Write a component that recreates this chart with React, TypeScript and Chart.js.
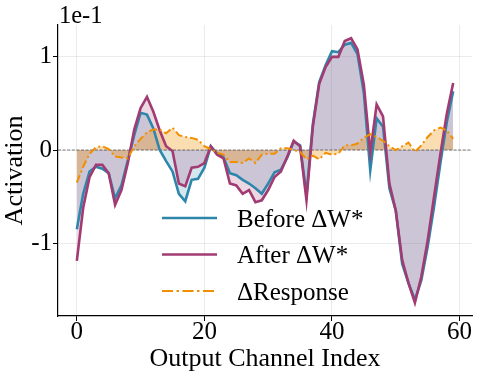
import React, { useEffect, useRef } from "react";
import { Chart, registerables } from "chart.js";

Chart.register(...registerables);

// Output channel indices (x categories)
const channels = [
  0, 1, 2, 3, 4, 5, 6, 7, 8, 9, 10, 11, 12, 13, 14, 15, 16, 17, 18, 19,
  20, 21, 22, 23, 24, 25, 26, 27, 28, 29, 30, 31, 32, 33, 34, 35, 36, 37, 38, 39,
  40, 41, 42, 43, 44, 45, 46, 47, 48, 49, 50, 51, 52, 53, 54, 55, 56, 57, 58, 59,
];

// Activation values, in units of 1e-1
const beforeDW = [
  -0.85, -0.47, -0.23, -0.18, -0.2, -0.25, -0.52, -0.38, -0.11, 0.16,
  0.4, 0.38, 0.23, 0.0, -0.12, -0.23, -0.47, -0.55, -0.32, -0.31,
  -0.19, 0.04, -0.04, -0.08, -0.25, -0.27, -0.32, -0.36, -0.41, -0.47,
  -0.36, -0.24, -0.21, -0.08, 0.09, 0.05, -0.48, 0.28, 0.73, 0.91,
  1.06, 1.05, 1.13, 1.15, 1.03, 0.61, -0.22, 0.34, 0.25, -0.41,
  -0.65, -1.22, -1.43, -1.61, -1.4, -1.04, -0.61, -0.14, 0.3, 0.63,
];

const afterDW = [
  -1.19, -0.62, -0.29, -0.16, -0.16, -0.25, -0.59, -0.43, -0.14, 0.22,
  0.45, 0.57, 0.41, 0.21, 0.04, -0.01, -0.36, -0.39, -0.19, -0.18,
  -0.14, 0.04, -0.05, -0.09, -0.36, -0.38, -0.47, -0.43, -0.56, -0.54,
  -0.43, -0.29, -0.23, -0.07, 0.1, 0.04, -0.54, 0.25, 0.71, 0.89,
  1.0, 1.0, 1.17, 1.2, 1.08, 0.7, -0.03, 0.49, 0.36, -0.36,
  -0.65, -1.18, -1.43, -1.64, -1.36, -0.97, -0.5, -0.04, 0.39, 0.72,
];

const deltaResponse = [
  -0.35, -0.18, -0.04, 0.03, 0.04, 0.01, -0.07, -0.08, -0.09, 0.04,
  0.12, 0.19, 0.22, 0.22, 0.18, 0.24, 0.16, 0.14, 0.13, 0.11,
  0.04, 0.01, -0.03, -0.05, -0.13, -0.13, -0.14, -0.09, -0.14, -0.05,
  -0.04, -0.04, 0.02, 0.02, 0.0, -0.02, -0.1, -0.06, -0.1, -0.03,
  -0.05, -0.04, 0.05, 0.05, 0.07, 0.13, 0.17, 0.14, 0.1, 0.04,
  0.0, 0.04, 0.08, -0.02, 0.05, 0.14, 0.21, 0.24, 0.21, 0.12,
];

const xTicks = [0, 20, 40, 60];
const yTicks = [-1, 0, 1];
const seriesLabels = ["Before \u0394W*", "After \u0394W*", "\u0394Response"];
const xTitle = "Output Channel Index";
const yTitle = "Activation";
const multiplierText = "1e-1";

const BLUE = "#2E86AB";
const MAGENTA = "#A23B72";
const ORANGE = "#F18F01";
const FONT = "'Liberation Serif', 'Times New Roman', serif";

const overlayPlugin = {
  id: "overlay",
  beforeDatasetsDraw(chart: any) {
    const { ctx, chartArea, scales } = chart;
    const y0 = scales.y.getPixelForValue(0);
    ctx.save();
    ctx.strokeStyle = "rgba(60,60,60,0.85)";
    ctx.lineWidth = 0.8;
    ctx.setLineDash([3, 1.6]);
    ctx.beginPath();
    ctx.moveTo(chartArea.left, y0);
    ctx.lineTo(chartArea.right, y0);
    ctx.stroke();
    ctx.restore();
  },
  afterDraw(chart: any) {
    const { ctx } = chart;
    ctx.save();
    ctx.fillStyle = "#000";
    ctx.font = `24.5px ${FONT}`;
    ctx.textBaseline = "alphabetic";
    ctx.textAlign = "left";
    ctx.fillText(multiplierText, 59, 23);
    const rows = [
      { label: seriesLabels[0], color: BLUE, dash: [] as number[], w: 2.6 },
      { label: seriesLabels[1], color: MAGENTA, dash: [] as number[], w: 2.6 },
      { label: seriesLabels[2], color: ORANGE, dash: [11, 3.5, 2.5, 3.5], w: 2 },
    ];
    const ys = [218, 254.5, 291];
    rows.forEach((r, i) => {
      ctx.strokeStyle = r.color;
      ctx.lineWidth = r.w;
      ctx.setLineDash(r.dash);
      ctx.beginPath();
      ctx.moveTo(162, ys[i]);
      ctx.lineTo(217, ys[i]);
      ctx.stroke();
      ctx.setLineDash([]);
      ctx.fillStyle = "#000";
      ctx.font = `25px ${FONT}`;
      ctx.fillText(r.label, 237, ys[i] + 8.7);
    });
    ctx.restore();
  },
};

export default function App() {
  const ref = useRef<HTMLCanvasElement | null>(null);

  useEffect(() => {
    document.body.style.margin = "0";
    const canvas = ref.current;
    if (!canvas) return;
    const chart = new Chart(canvas, {
      type: "line",
      data: {
        labels: channels,
        datasets: [
          {
            label: seriesLabels[0],
            data: channels.map((c, i) => ({ x: c, y: beforeDW[i] })),
            borderColor: BLUE,
            backgroundColor: "rgba(46,134,171,0.2)",
            borderWidth: 2.6,
            pointRadius: 0,
            fill: "origin",
            tension: 0,
            order: 3,
          },
          {
            label: seriesLabels[1],
            data: channels.map((c, i) => ({ x: c, y: afterDW[i] })),
            borderColor: MAGENTA,
            backgroundColor: "rgba(162,59,114,0.2)",
            borderWidth: 2.6,
            pointRadius: 0,
            fill: "origin",
            tension: 0,
            order: 2,
          },
          {
            label: seriesLabels[2],
            data: channels.map((c, i) => ({ x: c, y: deltaResponse[i] })),
            borderColor: ORANGE,
            backgroundColor: "rgba(241,143,1,0.3)",
            borderWidth: 2,
            borderDash: [8, 3, 2, 3],
            pointRadius: 0,
            fill: "origin",
            tension: 0,
            order: 1,
          },
        ],
      },
      options: {
        animation: false,
        responsive: false,
        maintainAspectRatio: false,
        layout: {
          padding: { top: 25, right: 6, left: 0, bottom: 0 },
          autoPadding: false,
        },
        plugins: {
          legend: { display: false },
          tooltip: { enabled: false },
          filler: { drawTime: "beforeDatasetsDraw" },
        },
        scales: {
          x: {
            type: "linear",
            min: -2.95,
            max: 61.95,
            afterBuildTicks: (s: any) => {
              s.ticks = xTicks.map((v) => ({ value: v }));
            },
            afterFit: (s: any) => {
              s.height = 60;
            },
            ticks: {
              color: "#000",
              font: { family: FONT, size: 25, lineHeight: 1 },
              padding: -1.5,
              maxRotation: 0,
              autoSkip: false,
              callback: (v: any) => String(v),
            },
            grid: {
              color: "rgba(0,0,0,0.08)",
              lineWidth: 1,
              tickColor: "#000",
              tickLength: 5,
              tickWidth: 1,
            },
            border: { color: "#000", width: 1.2 },
            title: {
              display: true,
              text: xTitle,
              color: "#000",
              font: { family: FONT, size: 26 },
              padding: { top: 0, bottom: 1.7 },
            },
          },
          y: {
            type: "linear",
            min: -1.782,
            max: 1.342,
            afterBuildTicks: (s: any) => {
              s.ticks = yTicks.map((v) => ({ value: v }));
            },
            afterFit: (s: any) => {
              s.width = 58;
            },
            ticks: {
              color: "#000",
              font: { family: FONT, size: 25 },
              padding: 1,
              autoSkip: false,
              callback: (v: any) => (v < 0 ? "-" + String(Math.abs(v)) : String(v)),
            },
            grid: {
              color: "rgba(0,0,0,0.08)",
              lineWidth: 1,
              tickColor: "#000",
              tickLength: 5,
              tickWidth: 1,
            },
            border: { color: "#000", width: 1.2 },
            title: {
              display: true,
              text: yTitle,
              color: "#000",
              font: { family: FONT, size: 26 },
              padding: { top: 0, bottom: 0 },
            },
          },
        },
      },
      plugins: [overlayPlugin],
    });
    return () => chart.destroy();
  }, []);

  return (
    <div style={{ position: "fixed", left: 0, top: 0, width: 478, height: 376, background: "#fff" }}>
      <canvas ref={ref} width={478} height={376} style={{ width: 478, height: 376, display: "block" }} />
    </div>
  );
}
